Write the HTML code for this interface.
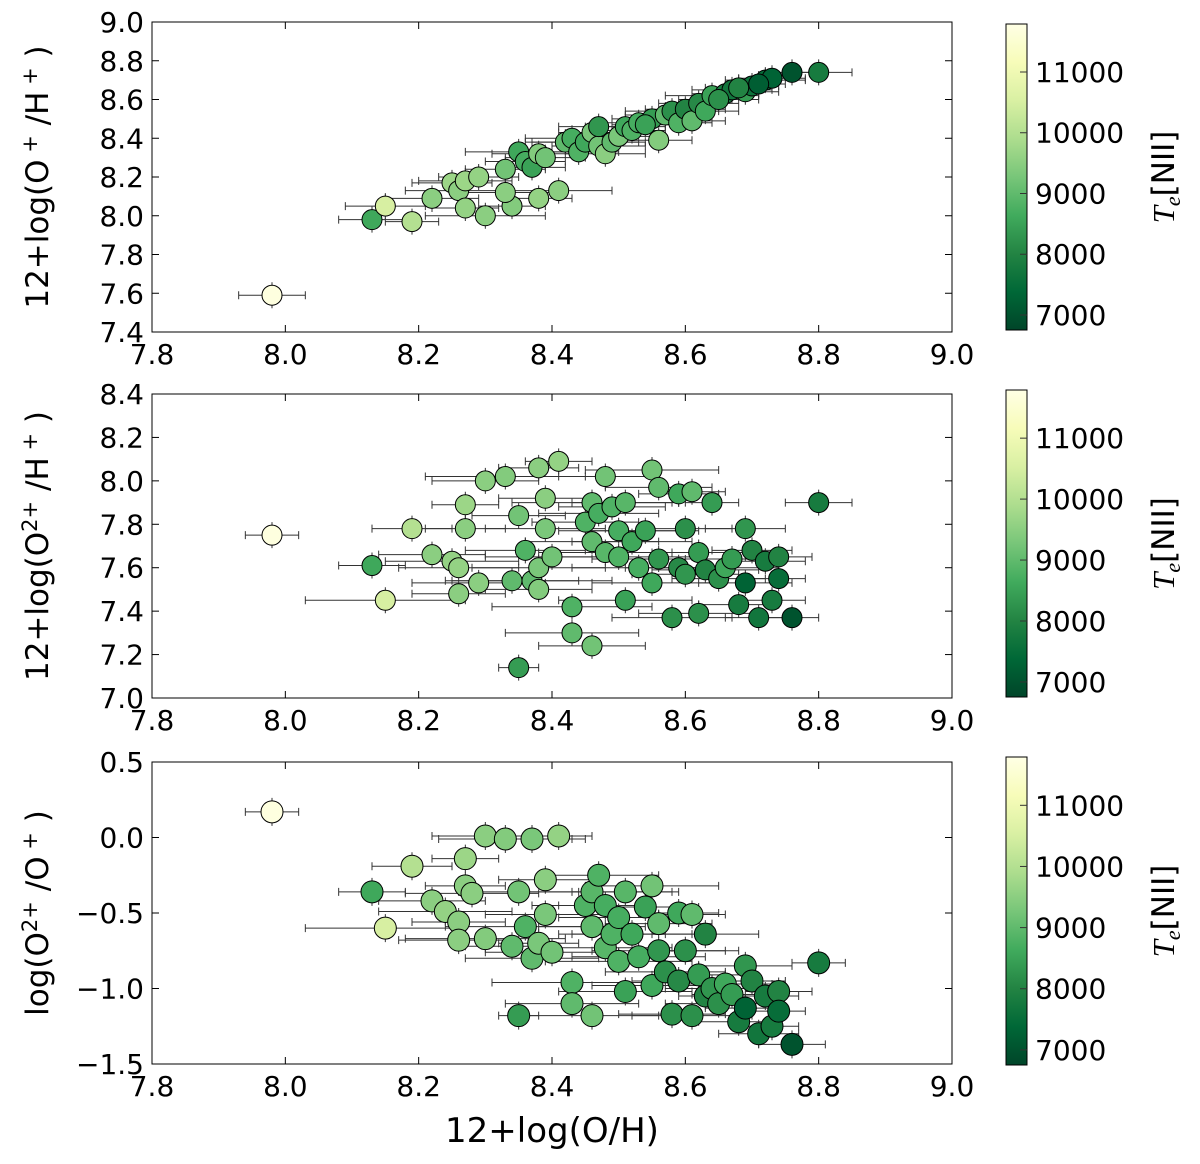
<!DOCTYPE html>
<html><head><meta charset="utf-8"><style>
body{margin:0;background:#fff;}
svg{display:block;font-family:"DejaVu Sans","Liberation Sans",sans-serif;}
</style></head><body>
<svg id="fig" width="1200" height="1164" viewBox="0 0 1200 1164" xmlns="http://www.w3.org/2000/svg">
<defs>
<linearGradient id="cmap" x1="0" y1="1" x2="0" y2="0">
<stop offset="0" stop-color="#004529"/><stop offset="0.125" stop-color="#006837"/><stop offset="0.25" stop-color="#238443"/><stop offset="0.375" stop-color="#41ab5d"/><stop offset="0.5" stop-color="#78c679"/><stop offset="0.625" stop-color="#addd8e"/><stop offset="0.75" stop-color="#d9f0a3"/><stop offset="0.875" stop-color="#f7fcb9"/><stop offset="1" stop-color="#ffffe5"/>
</linearGradient>
</defs>
</svg>
<script>
// ---- data ----
const p1X=[7.98,8.13,8.15,8.19,8.22,8.25,8.26,8.27,8.27,8.29,8.30,8.33,8.34,8.33,8.35,8.36,8.37,8.38,8.39,8.38,8.41,8.42,8.43,8.44,8.45,8.46,8.47,8.48,8.49,8.50,8.51,8.52,8.53,8.55,8.56,8.57,8.58,8.59,8.60,8.61,8.62,8.63,8.64,8.66,8.67,8.69,8.70,8.72,8.73,8.76,8.80,8.68,8.71,8.65,8.54,8.47];
const p1Y=[7.59,7.98,8.05,7.97,8.09,8.17,8.13,8.04,8.18,8.20,8.00,8.24,8.05,8.12,8.33,8.28,8.25,8.32,8.30,8.09,8.13,8.38,8.40,8.33,8.38,8.43,8.36,8.32,8.38,8.41,8.46,8.44,8.48,8.50,8.39,8.52,8.54,8.48,8.55,8.49,8.58,8.54,8.62,8.63,8.65,8.64,8.67,8.70,8.71,8.74,8.74,8.66,8.68,8.60,8.47,8.46];
const p1T=[11700,8600,10500,10000,9500,9700,9500,9600,9700,9600,9500,9200,9400,9500,8600,8700,8500,9400,9200,9600,9500,9000,8700,8800,8600,9300,9200,9500,9000,9300,8600,8800,8700,8400,9400,9000,8200,8800,8000,9000,8100,8600,8500,7800,7700,8400,7600,7500,7300,7000,7800,8000,7200,8200,8500,8300];
const p1E=[0.05,0.05,0.06,0.04,0.07,0.06,0.08,0.05,0.07,0.06,0.09,0.06,0.05,0.07,0.08,0.06,0.05,0.07,0.06,0.05,0.08,0.06,0.07,0.06,0.08,0.05,0.07,0.06,0.05,0.07,0.06,0.05,0.07,0.06,0.05,0.06,0.07,0.05,0.06,0.05,0.06,0.05,0.07,0.05,0.06,0.05,0.04,0.06,0.05,0.04,0.05,0.05,0.04,0.06,0.05,0.06];
const p2X=[7.98,8.13,8.15,8.19,8.22,8.25,8.26,8.26,8.27,8.27,8.29,8.30,8.33,8.34,8.35,8.35,8.36,8.37,8.38,8.38,8.38,8.39,8.39,8.40,8.41,8.43,8.43,8.45,8.46,8.46,8.46,8.47,8.48,8.48,8.49,8.50,8.50,8.51,8.51,8.52,8.53,8.54,8.55,8.55,8.56,8.56,8.58,8.59,8.59,8.60,8.60,8.61,8.62,8.62,8.63,8.64,8.65,8.66,8.67,8.68,8.69,8.69,8.70,8.71,8.72,8.73,8.74,8.74,8.76,8.80];
const p2Y=[7.75,7.61,7.45,7.78,7.66,7.63,7.48,7.60,7.89,7.78,7.53,8.00,8.02,7.54,7.84,7.14,7.68,7.54,7.50,7.60,8.06,7.92,7.78,7.65,8.09,7.42,7.30,7.81,7.24,7.72,7.90,7.85,8.02,7.67,7.88,7.77,7.65,7.45,7.90,7.72,7.60,7.77,8.05,7.53,7.97,7.64,7.37,7.60,7.94,7.78,7.57,7.95,7.39,7.67,7.59,7.90,7.55,7.60,7.64,7.43,7.78,7.53,7.68,7.37,7.63,7.45,7.55,7.65,7.37,7.90];
const p2T=[11700,8600,10500,10000,9500,9600,9500,9600,9700,9500,9500,9500,9400,9000,9200,8400,8800,9000,9400,9300,9500,9500,9300,9200,9600,8800,9000,8800,9200,9000,9000,8700,9200,8900,8800,8700,8800,8500,8900,8600,8700,8500,9200,8600,9000,8300,8200,8100,8600,8200,8300,9000,8200,8400,8000,8400,8200,8600,8400,7800,8300,7300,8000,7700,7800,7800,7500,8000,7000,7800];
const p3Y=[0.17,-0.36,-0.60,-0.19,-0.42,-0.49,-0.56,-0.68,-0.14,-0.32,-0.37,0.01,-0.67,-0.01,-0.72,-1.18,-0.36,-0.59,-0.01,-0.80,-0.70,-0.28,-0.51,-0.76,0.01,-0.96,-1.10,-0.45,-0.59,-1.18,-0.36,-0.25,-0.45,-0.73,-0.64,-0.53,-0.82,-1.02,-0.36,-0.64,-0.79,-0.46,-0.32,-0.98,-0.57,-0.75,-0.89,-1.17,-0.50,-0.95,-0.75,-0.51,-1.18,-0.91,-0.64,-1.05,-1.00,-1.10,-0.97,-1.04,-1.22,-0.85,-1.13,-0.95,-1.30,-1.05,-1.25,-1.02,-1.15,-1.37,-0.83];
const p3X=[7.98,8.13,8.15,8.19,8.22,8.24,8.26,8.26,8.27,8.27,8.28,8.30,8.30,8.33,8.34,8.35,8.35,8.36,8.37,8.37,8.38,8.39,8.39,8.40,8.41,8.43,8.43,8.45,8.46,8.46,8.46,8.47,8.48,8.48,8.49,8.50,8.50,8.51,8.51,8.52,8.53,8.54,8.55,8.55,8.56,8.56,8.57,8.58,8.59,8.59,8.60,8.61,8.61,8.62,8.63,8.63,8.64,8.65,8.66,8.67,8.68,8.69,8.69,8.70,8.71,8.72,8.73,8.74,8.74,8.76,8.80];
const p3T=[11700,8600,10500,10000,9500,9600,9500,9500,9700,9500,9500,9500,9400,9400,9000,8400,9200,8800,9300,9000,9300,9500,9300,9200,9600,8800,9000,8800,9000,9200,8900,8800,8700,8900,8800,8700,8800,8500,8900,8600,8700,8500,9200,8600,9000,8300,8200,8200,8600,8100,8200,9000,8200,8400,8000,8000,8300,8200,8600,8400,7800,8300,7300,8000,7700,7800,7800,8000,7500,7000,7800];
const p2E=[0.04,0.05,0.12,0.06,0.08,0.10,0.07,0.09,0.05,0.06,0.10,0.08,0.12,0.10,0.07,0.03,0.09,0.12,0.08,0.10,0.06,0.07,0.09,0.10,0.05,0.12,0.10,0.08,0.08,0.10,0.12,0.09,0.07,0.10,0.08,0.09,0.11,0.10,0.08,0.09,0.10,0.08,0.10,0.09,0.08,0.10,0.09,0.08,0.06,0.07,0.08,0.05,0.09,0.07,0.08,0.04,0.07,0.08,0.07,0.06,0.06,0.07,0.06,0.05,0.06,0.05,0.04,0.05,0.04,0.05];
const xTicks=[7.8,8.0,8.2,8.4,8.6,8.8,9.0];
const y1Ticks=[7.4,7.6,7.8,8.0,8.2,8.4,8.6,8.8,9.0];
const y2Ticks=[7.0,7.2,7.4,7.6,7.8,8.0,8.2,8.4];
const y3Ticks=[-1.5,-1.0,-0.5,0.0,0.5];
const cTicks=[7000,8000,9000,10000,11000];

const NS="http://www.w3.org/2000/svg";
const svg=document.getElementById('fig');
function mk(tag,attrs,parent){const e=document.createElementNS(NS,tag);for(const k in attrs)e.setAttribute(k,attrs[k]);(parent||svg).appendChild(e);return e;}
const stops=["#004529","#006837","#238443","#41ab5d","#78c679","#addd8e","#d9f0a3","#f7fcb9","#ffffe5"];
const TMIN=6753,TMAX=11790;
function hex(h){return [1,3,5].map(i=>parseInt(h.substr(i,2),16));}
function cmap(t){let f=(t-TMIN)/(TMAX-TMIN);f=Math.max(0,Math.min(1,f))*8;const i=Math.min(7,Math.floor(f)),r=f-i;const a=hex(stops[i]),b=hex(stops[i+1]);return 'rgb('+a.map((v,k)=>Math.round(v+(b[k]-v)*r)).join(',')+')';}
const X0=152,X1=952;
function sx(v){return X0+(v-7.8)/1.2*(X1-X0);}
function fmt(v,d){const s=v.toFixed(d);return s.replace('-','\u2212');}

function panel(idx,top,bot,ymin,ymax,yT,yd,xs,ys,ts,xe,r,ylabel,cbTop,cbBot){
  const g=mk('g',{});
  
  
  const sy=v=>bot-(v-ymin)/(ymax-ymin)*(bot-top);
  const frame=mk('rect',{x:X0,y:top,width:X1-X0,height:bot-top,fill:'#fff',stroke:'#000','stroke-width':1},g);
  
  
  xTicks.forEach(v=>{const x=sx(v);mk('line',{x1:x,x2:x,y1:bot,y2:bot-7,stroke:'#000'},g);mk('line',{x1:x,x2:x,y1:top,y2:top+7,stroke:'#000'},g);
    const t=mk('text',{x:x,y:bot+32,'text-anchor':'middle','font-size':28},g);t.textContent=v.toFixed(1);
    });
  yT.forEach(v=>{const y=sy(v);mk('line',{x1:X0,x2:X0+7,y1:y,y2:y,stroke:'#000'},g);mk('line',{x1:X1,x2:X1-7,y1:y,y2:y,stroke:'#000'},g);
    const t=mk('text',{x:X0-8,y:y+10,'text-anchor':'end','font-size':28},g);t.textContent=fmt(v,yd);
    });
  const yl=mk('text',{x:0,y:0,transform:'translate(48,'+((top+bot)/2)+') rotate(-90)','text-anchor':'middle','font-size':31},g);
  yl.innerHTML=ylabel;
  
  xs.forEach((v,i)=>{const y=sy(ys[i]);const e=xe[i%xe.length];const a=sx(v-e),b=sx(v+e);
    const eb=mk('path',{d:`M${a},${y}H${b}M${a},${y-4}V${y+4}M${b},${y-4}V${y+4}M${sx(v)},${y-r-3}V${y+r+3}`,stroke:'#333','stroke-width':1,fill:'none'},g);
    });
  xs.forEach((v,i)=>{const c=mk('circle',{cx:sx(v),cy:sy(ys[i]),r:r,fill:cmap(ts[i]),stroke:'#000','stroke-width':1},g);
    });
  const cb=mk('rect',{x:1006,y:cbTop,width:21,height:cbBot-cbTop,fill:'url(#cmap)',stroke:'#000'},g);
  
  const cy=v=>cbBot-(v-TMIN)/(TMAX-TMIN)*(cbBot-cbTop);
  cTicks.forEach(v=>{const y=cy(v);mk('line',{x1:1020,x2:1027,y1:y,y2:y,stroke:'#333'},g);
    const t=mk('text',{x:1035,y:y+10,'font-size':28},g);t.textContent=v;
    });
  const cl=mk('text',{x:0,y:0,transform:'translate(1174,'+((cbTop+cbBot)/2)+') rotate(-90)','text-anchor':'middle','font-size':31},g);
  cl.innerHTML='<tspan font-family="Liberation Serif,serif" font-style="italic">T</tspan><tspan font-family="Liberation Serif,serif" font-style="italic" font-size="22" dy="6">e</tspan><tspan dy="-6">[NII]</tspan>';
  
}
panel(1,22,332,7.4,9.0,y1Ticks,1,p1X,p1Y,p1T,p1E,10,'12+log(O<tspan dy="-11" font-size="21"> +</tspan><tspan dy="11"> /H</tspan><tspan dy="-11" font-size="21"> +</tspan><tspan dy="11"> )</tspan>',24,330);
panel(2,394,698,7.0,8.4,y2Ticks,1,p2X,p2Y,p2T,p2E,10,'12+log(O<tspan dy="-11" font-size="21">2+</tspan><tspan dy="11"> /H</tspan><tspan dy="-11" font-size="21"> +</tspan><tspan dy="11"> )</tspan>',390,697);
panel(3,762,1064,-1.5,0.5,y3Ticks,1,p3X,p3Y,p3T,p2E,11,'log(O<tspan dy="-11" font-size="21">2+</tspan><tspan dy="11"> /O</tspan><tspan dy="-11" font-size="21"> +</tspan><tspan dy="11"> )</tspan>',757,1065);
const xl=mk('text',{x:552,y:1142,'text-anchor':'middle','font-size':34});
xl.textContent='12+log(O/H)';


</script>
</body></html>
